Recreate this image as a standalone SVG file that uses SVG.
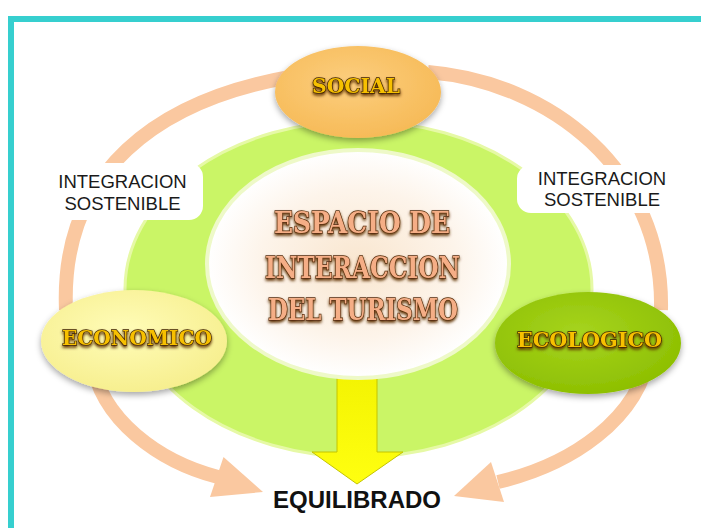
<svg xmlns="http://www.w3.org/2000/svg" width="701" height="528" viewBox="0 0 701 528">
  <defs>
    <style>
      .arc { fill: none; stroke: #FAC8A0; stroke-width: 14; }
      .head { fill: #FAC8A0; }
      .lbl { font-family: "Liberation Sans", Arial, sans-serif; font-size: 18.5px; fill: #1a1a1a; text-anchor: middle; }
      .gold { font-family: "DejaVu Serif", "Liberation Serif", serif; font-weight: bold; fill: #F7C000; stroke: #3E2200; stroke-width: 1.3; paint-order: stroke; filter: url(#glow); }
      .salmon { font-family: "DejaVu Serif", "Liberation Serif", serif; font-weight: bold; font-size: 29px; fill: #F5AE86; stroke: #552A0A; stroke-width: 1.4; paint-order: stroke; filter: url(#glow); }
      .eq { font-family: "Liberation Sans", Arial, sans-serif; font-weight: bold; font-size: 24px; fill: #111; text-anchor: middle; }
    </style>
    <filter id="shadow" x="-20%" y="-20%" width="140%" height="150%">
      <feDropShadow dx="0" dy="3" stdDeviation="3" flood-color="#000" flood-opacity="0.35"/>
    </filter>
    <filter id="glow" x="-10%" y="-30%" width="120%" height="180%">
      <feGaussianBlur in="SourceAlpha" stdDeviation="1.5" result="b"/>
      <feOffset in="b" dy="1.5" result="o"/>
      <feFlood flood-color="#5E3000" flood-opacity="1"/>
      <feComposite in2="o" operator="in" result="g"/>
      <feMerge><feMergeNode in="g"/><feMergeNode in="SourceGraphic"/></feMerge>
    </filter>
    <radialGradient id="gSocial" cx="45%" cy="40%" r="65%">
      <stop offset="0" stop-color="#FCCE7E"/>
      <stop offset="1" stop-color="#F6B955"/>
    </radialGradient>
    <radialGradient id="gEco" cx="45%" cy="40%" r="65%">
      <stop offset="0" stop-color="#FFFCB8"/>
      <stop offset="1" stop-color="#F6EE8C"/>
    </radialGradient>
    <radialGradient id="gEcol" cx="45%" cy="40%" r="65%">
      <stop offset="0" stop-color="#A6D41E"/>
      <stop offset="1" stop-color="#8CBE00"/>
    </radialGradient>
    <radialGradient id="gCenter" cx="50%" cy="50%" r="50%">
      <stop offset="0" stop-color="#F9E6CF"/>
      <stop offset="0.65" stop-color="#FDF4EA"/>
      <stop offset="1" stop-color="#FFFFFF"/>
    </radialGradient>
    <linearGradient id="gArrow" x1="0" y1="0" x2="0" y2="1">
      <stop offset="0" stop-color="#F2F200"/>
      <stop offset="1" stop-color="#FFFF10"/>
    </linearGradient>
  </defs>

  <rect x="0" y="0" width="701" height="528" fill="#FFFFFF"/>
  <rect id="frame" x="11" y="19" width="720" height="540" fill="none" stroke="#36CFCF" stroke-width="6"/>

  <g id="connectors">
    <path class="arc" d="M 290 77 C 160 100, 60 170, 66 310"/>
    <path class="arc" d="M 92 360 C 100 420, 160 462, 218 477"/>
    <polygon class="head" points="223.5,457 263,492 210,497"/>
    <path class="arc" d="M 428 72 C 550 82, 664 170, 661 310"/>
    <path class="arc" d="M 650 350 C 640 420, 570 465, 498 482"/>
    <polygon class="head" points="491,462 454,496 504,502"/>
  </g>

  <g id="node-ring">
    <ellipse cx="358.5" cy="289" rx="233.5" ry="168" fill="#CAF566" stroke="#E6F9A6" stroke-width="3"/>
  </g>

  <g id="label-left">
    <rect x="30" y="163" width="173" height="57" rx="14" fill="#FFFFFF"/>
    <text class="lbl" x="122.5" y="188">INTEGRACION</text>
    <text class="lbl" x="122.5" y="210">SOSTENIBLE</text>
  </g>
  <g id="label-right">
    <rect x="517" y="165" width="200" height="48" rx="14" fill="#FFFFFF"/>
    <text class="lbl" x="602" y="185">INTEGRACION</text>
    <text class="lbl" x="602" y="206">SOSTENIBLE</text>
  </g>

  <g id="arrow-down">
    <polygon points="337,360 377,360 377,452 403,452 357,484 312,452 337,452" fill="url(#gArrow)" stroke="#C4C400" stroke-width="1"/>
  </g>

  <g id="node-center">
    <ellipse cx="358" cy="264" rx="151" ry="114" fill="url(#gCenter)" stroke="#EEF9C8" stroke-width="4"/>
    <text class="salmon" x="274" y="233" textLength="176" lengthAdjust="spacingAndGlyphs">ESPACIO DE</text>
    <text class="salmon" x="265" y="278" textLength="195" lengthAdjust="spacingAndGlyphs">INTERACCION</text>
    <text class="salmon" x="268" y="320" textLength="190" lengthAdjust="spacingAndGlyphs">DEL TURISMO</text>
  </g>

  <g id="node-social">
    <ellipse cx="358" cy="92" rx="83" ry="46" fill="url(#gSocial)" filter="url(#shadow)"/>
    <text class="gold" x="312" y="93" font-size="20" textLength="88" lengthAdjust="spacingAndGlyphs">SOCIAL</text>
  </g>

  <g id="node-economico">
    <ellipse cx="134" cy="341" rx="93" ry="51" fill="url(#gEco)" filter="url(#shadow)"/>
    <text class="gold" x="62" y="345" font-size="21" textLength="150" lengthAdjust="spacingAndGlyphs">ECONOMICO</text>
  </g>

  <g id="node-ecologico">
    <ellipse cx="588" cy="343" rx="93" ry="51" fill="url(#gEcol)" filter="url(#shadow)"/>
    <text class="gold" x="517" y="347" font-size="20.5" textLength="145" lengthAdjust="spacingAndGlyphs">ECOLOGICO</text>
  </g>

  <g id="node-equilibrado">
    <text class="eq" x="357" y="508">EQUILIBRADO</text>
  </g>
</svg>
